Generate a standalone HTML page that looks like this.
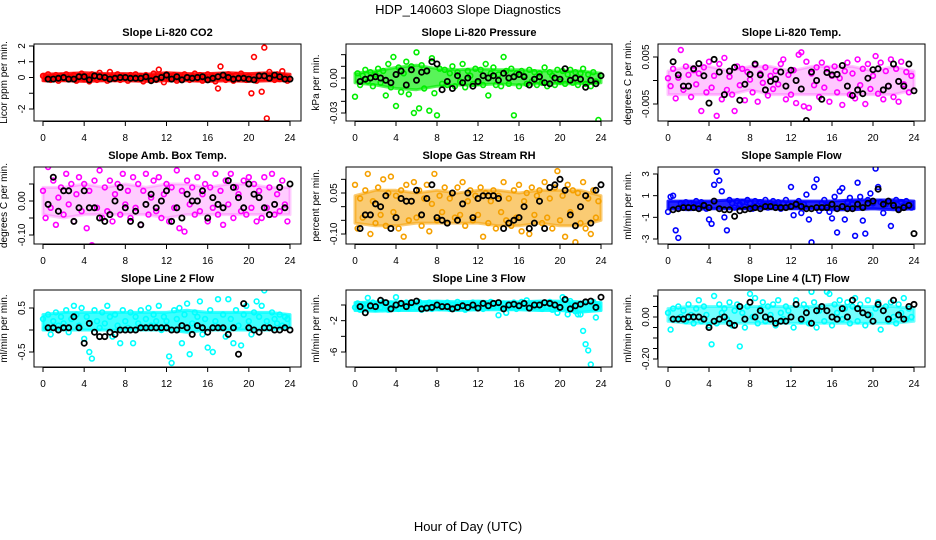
<!DOCTYPE html>
<html><head><meta charset="utf-8"><title>HDP_140603 Slope Diagnostics</title>
<style>
html,body{margin:0;padding:0;background:#fff;}
svg{display:block;font-family:"Liberation Sans","DejaVu Sans",sans-serif;}
</style></head>
<body>
<svg id="chart" width="936" height="540" viewBox="0 0 936 540" xmlns="http://www.w3.org/2000/svg">
<rect x="0" y="0" width="936" height="540" fill="#fff"/>
<text x="468" y="14" text-anchor="middle" font-size="13" fill="#000">HDP_140603  Slope Diagnostics</text>
<text x="468" y="531" text-anchor="middle" font-size="13" fill="#000">Hour of Day (UTC)</text>
</svg>
<script>
const xTicks = [0,4,8,12,16,20,24];
const titles = ["Slope Li-820 CO2","Slope Li-820 Pressure","Slope Li-820 Temp.","Slope Amb. Box Temp.","Slope Gas Stream RH","Slope Sample Flow","Slope Line 2 Flow","Slope Line 3 Flow","Slope Line 4 (LT) Flow"];
const yTitles = ["Licor ppm per min.","kPa per min.","degrees C per min.","degrees C per min.","percent per min.","ml/min per min.","ml/min per min.","ml/min per min.","ml/min per min."];
const colors = ["#ff0000","#00ee00","#ff00ff","#ff00ff","#f5a000","#0000ff","#00ffff","#00ffff","#00ffff"];
const yTickVals = [[2,1,0,-1,-2],[0.02,0.01,0,-0.01,-0.02,-0.03],[0.005,0,-0.005],[0.05,0,-0.05,-0.10],[0.10,0.05,0,-0.05,-0.10],[3,1,-1,-3],[0.5,0,-0.5],[0,-2,-4,-6],[0.10,0.05,0,-0.05,-0.10,-0.15,-0.20]];
const yTickLabels = [["2","1","0","","-2"],["","","0.00","","","-0.03"],["0.005","","-0.005"],["","0.00","","-0.10"],["","0.05","","","-0.10"],["3","1","-1","-3"],["0.5","","-0.5"],["","-2","","-6"],["","","0.00","","","","-0.20"]];

const bandLo0 = [-0.2,-0.2,-0.25,-0.2,-0.2,-0.25,-0.2,-0.2,-0.25,-0.2,-0.25,-0.2,-0.2];
const bandHi0 = [0.2,0.25,0.3,0.25,0.25,0.2,0.3,0.25,0.25,0.3,0.25,0.3,0.2];
const bandLo1 = [-0.004,-0.006,-0.009,-0.01,-0.007,-0.006,-0.006,-0.005,-0.006,-0.005,-0.005,-0.005,-0.004];
const bandHi1 = [0.004,0.006,0.009,0.011,0.008,0.007,0.008,0.007,0.007,0.006,0.006,0.006,0.004];
const bandLo2 = [-0.003,-0.003,-0.003,-0.003,-0.002,-0.003,-0.003,-0.003,-0.003,-0.003,-0.003,-0.003,-0.002];
const bandHi2 = [0.002,0.003,0.003,0.002,0.003,0.003,0.002,0.003,0.003,0.003,0.002,0.003,0.002];
const bandLo3 = [-0.04,-0.05,-0.04,-0.04,-0.04,-0.04,-0.05,-0.04,-0.04,-0.04,-0.04,-0.04,-0.04];
const bandHi3 = [0.04,0.04,0.05,0.04,0.05,0.04,0.05,0.05,0.04,0.05,0.05,0.04,0.04];
const bandLo4 = [-0.06,-0.07,-0.07,-0.06,-0.06,-0.06,-0.06,-0.07,-0.07,-0.06,-0.07,-0.07,-0.05];
const bandHi4 = [0.04,0.06,0.06,0.05,0.06,0.05,0.06,0.06,0.05,0.06,0.06,0.06,0.04];
const bandLo5 = [-0.2,-0.3,-0.2,-0.2,-0.2,-0.2,-0.2,-0.2,-0.3,-0.3,-0.2,-0.3,-0.2];
const bandHi5 = [0.5,0.5,0.5,0.6,0.6,0.5,0.5,0.5,0.5,0.6,0.6,0.6,0.5];
const bandLo6 = [0.0,0.0,0.0,0.0,0.0,0.0,0.0,-0.05,0.0,0.0,0.0,0.0,0.05];
const bandHi6 = [0.35,0.4,0.4,0.4,0.4,0.4,0.4,0.45,0.4,0.4,0.4,0.4,0.35];
const bandLo7 = [-0.7,-0.8,-0.7,-0.7,-0.6,-0.7,-0.6,-0.6,-0.6,-0.7,-0.7,-0.9,-0.7];
const bandHi7 = [0.3,0.4,0.4,0.4,0.5,0.4,0.5,0.4,0.4,0.5,0.5,0.4,0.3];
const bandLo8 = [-0.02,-0.03,-0.03,-0.03,-0.03,-0.03,-0.03,-0.03,-0.03,-0.03,-0.03,-0.03,-0.02];
const bandHi8 = [0.04,0.05,0.05,0.05,0.05,0.05,0.05,0.05,0.06,0.05,0.05,0.05,0.04];

const hourly0 = [0.1,-0.1,0.2,-0.15,0.05,0.15,-0.2,0.1,-0.05,0.2,-0.1,0.0,0.15,-0.2,0.1,0.25,-0.1,0.05,-0.25,0.2,0.1,-0.15,0.3,-0.05,0.1,-0.2,0.35,0.0,-0.1,0.2,-0.15,0.1,0.05,-0.2,0.15,-0.05,0.2,-0.1,0.1,-0.25,0.15,0.0,-0.1,0.25,-0.15,0.5,0.1,-0.3,0.2,-0.1,0.05,0.15,-0.2,0.1,-0.05,0.2,0.0,-0.15,0.1,0.25,-0.1,0.15,-0.2,0.05,0.2,-0.1,0.1,-0.25,-0.7,0.7,0.1,-0.15,0.2,0.05,-0.2,0.15,-0.1,0.25,0.0,-0.15,0.1,-1.0,1.3,-0.2,0.15,-0.9,1.9,-2.6,0.35,0.1,-0.15,0.2,-0.1,0.4,0.05,-0.2];
const avg0 = [-0.1,-0.1,-0.05,0.0,-0.1,-0.1,0.05,0.05,-0.15,0.1,0.05,0.0,-0.1,-0.05,0.0,0.0,-0.05,-0.05,-0.05,0.05,-0.2,-0.1,0.0,0.15,-0.1,0.05,-0.15,0.0,-0.05,0.0,0.05,-0.15,-0.05,0.05,0.15,0.0,-0.1,-0.05,-0.05,-0.1,-0.15,0.1,0.1,-0.05,0.15,0.05,-0.1,-0.1];
const hourly1 = [-0.016,0.004,-0.006,0.002,0.007,-0.003,0.005,-0.007,0.003,0.008,-0.004,0.006,-0.015,0.012,-0.008,0.018,-0.024,0.009,-0.012,0.004,0.014,-0.014,0.010,-0.030,0.022,-0.026,0.011,-0.009,0.006,-0.028,0.017,-0.013,-0.032,0.008,-0.005,0.007,-0.006,0.004,0.010,-0.007,0.005,-0.003,0.012,-0.008,0.006,0.002,-0.005,0.008,-0.004,0.007,-0.006,0.012,-0.015,0.004,0.009,-0.006,0.003,-0.007,0.018,0.006,-0.005,0.008,-0.032,0.004,-0.007,0.006,0.002,-0.005,0.007,-0.003,0.005,-0.006,0.004,-0.004,0.009,-0.007,0.005,0.002,-0.006,0.007,-0.003,0.006,-0.005,0.003,0.007,-0.004,0.005,-0.006,0.004,0.008,-0.005,0.003,-0.007,0.005,-0.003,-0.036];
const avg1 = [-0.003,-0.001,0.000,0.001,0.000,-0.002,-0.004,0.003,0.006,-0.006,0.007,-0.002,0.005,0.006,0.014,0.012,-0.010,-0.003,-0.009,0.002,-0.004,0.000,-0.007,-0.003,0.002,0.000,0.002,-0.002,0.004,0.000,0.001,0.003,0.001,-0.006,-0.001,0.001,-0.004,-0.005,0.000,-0.001,0.008,-0.002,0.000,-0.001,-0.008,-0.002,-0.005,0.002];
const hourly2 = [0.0005,-0.0012,0.0025,-0.0038,0.0006,0.0065,-0.0020,0.0030,0.0012,-0.0035,0.0022,-0.0008,0.0015,-0.0065,0.0028,-0.0025,0.0040,-0.0015,0.0010,-0.0075,0.0035,-0.0040,0.0048,-0.0020,0.0008,-0.0030,-0.0065,0.0030,-0.0010,0.0025,-0.0042,0.0018,0.0002,-0.0025,0.0033,-0.0045,0.0015,-0.0005,0.0028,-0.0032,0.0010,-0.0018,0.0020,-0.0008,0.0035,0.0045,-0.0040,0.0012,-0.0030,0.0022,-0.0048,0.0055,0.0060,-0.0055,0.0040,-0.0058,0.0015,-0.0010,0.0028,-0.0035,0.0038,-0.0015,0.0025,-0.0045,0.0010,0.0030,-0.0025,0.0005,-0.0052,0.0020,0.0038,-0.0030,0.0015,-0.0038,0.0045,-0.0010,0.0025,-0.0050,0.0035,-0.0018,0.0010,0.0052,-0.0028,0.0038,-0.0040,0.0020,-0.0012,0.0045,-0.0035,0.0025,-0.0045,0.0040,-0.0008,0.0018,-0.0025,0.0010];
const avg2 = [0.0040,0.0012,-0.0012,-0.0012,0.0025,0.0036,0.0010,-0.0048,0.0045,0.0018,-0.0030,0.0020,0.0028,-0.0042,-0.0008,0.0013,0.0035,0.0012,-0.0020,-0.0002,0.0003,0.0018,-0.0012,0.0022,0.0000,-0.0018,-0.0085,0.0018,0.0000,-0.0040,0.0017,0.0012,0.0013,0.0032,-0.0012,-0.0032,-0.0020,-0.0028,0.0005,0.0023,0.0025,-0.0020,-0.0012,0.0035,-0.0002,-0.0012,0.0035,-0.0022];
const hourly3 = [0.03,-0.05,0.10,-0.02,0.06,-0.07,0.01,0.04,-0.04,0.08,-0.01,0.05,-0.06,0.02,0.07,-0.03,0.05,-0.08,0.03,-0.13,0.06,-0.02,0.09,-0.05,0.04,-0.03,0.06,-0.06,0.02,0.05,-0.04,0.08,-0.01,0.03,-0.05,0.07,-0.02,0.05,-0.07,0.03,0.08,-0.04,0.01,0.06,-0.03,0.07,-0.05,0.02,0.05,-0.06,0.04,-0.02,0.09,-0.08,0.03,-0.09,0.06,-0.01,0.04,-0.04,0.07,-0.03,0.02,0.05,-0.06,0.04,-0.02,0.08,-0.04,0.03,-0.07,0.06,-0.01,0.08,-0.05,0.04,0.02,-0.03,0.06,-0.04,0.07,-0.02,0.05,-0.06,0.03,-0.05,0.07,-0.02,0.04,0.08,-0.04,0.02,-0.03,0.06,-0.01,-0.06];
const avg3 = [-0.01,0.07,-0.03,0.03,0.03,-0.06,-0.02,0.03,-0.02,-0.02,-0.05,-0.06,-0.04,0.00,0.04,-0.02,-0.06,-0.03,-0.07,-0.01,0.02,-0.02,0.00,0.03,-0.06,-0.02,-0.05,0.02,0.00,0.00,0.03,-0.05,0.01,-0.01,-0.02,0.06,0.04,0.01,-0.02,0.05,0.02,0.01,-0.02,-0.04,-0.01,0.04,-0.02,0.05];
const hourly4 = [0.08,-0.08,0.03,-0.04,0.06,0.12,-0.10,0.02,-0.06,0.07,-0.03,0.10,-0.07,0.05,0.11,-0.02,0.04,-0.08,0.06,-0.11,0.08,-0.05,0.02,0.09,-0.04,0.06,-0.07,0.03,0.08,-0.09,0.01,0.12,-0.05,0.04,-0.02,0.07,-0.06,0.03,0.05,-0.04,0.07,-0.03,0.09,-0.07,0.02,0.06,-0.05,0.04,-0.03,0.07,-0.11,0.05,-0.06,0.02,0.06,-0.08,0.04,-0.02,0.09,-0.05,0.03,-0.07,0.06,-0.04,0.08,-0.09,0.02,0.05,-0.10,0.07,-0.03,0.04,0.06,-0.06,0.09,-0.04,0.03,-0.08,0.07,0.13,-0.05,0.04,-0.11,0.08,-0.02,0.06,-0.13,0.05,-0.06,0.09,-0.08,0.03,-0.10,0.06,-0.04,0.02];
const avg4 = [-0.08,-0.03,-0.03,0.01,0.00,0.04,-0.08,-0.04,0.03,0.02,0.02,0.06,-0.03,0.03,0.08,-0.04,-0.05,-0.06,0.05,-0.05,0.01,0.05,-0.04,0.03,0.04,0.04,0.04,0.03,-0.08,-0.06,-0.05,-0.04,0.00,-0.08,-0.06,0.02,-0.08,0.07,0.08,0.10,0.06,-0.03,-0.07,0.00,0.04,-0.06,0.06,0.08];
const hourly5 = [-0.5,0.9,1.0,-2.2,-2.9,0.3,0.1,0.4,-0.1,0.3,0.2,0.5,0.1,0.4,0.2,-0.2,-1.2,-1.6,2.0,3.2,2.4,1.4,-1.0,-2.2,0.6,0.3,-0.1,0.5,0.2,0.4,0.0,0.6,0.3,-0.2,0.5,0.1,0.4,0.2,0.6,-0.1,0.3,0.5,0.1,0.4,-0.2,0.3,0.6,0.2,1.8,-0.8,0.3,0.5,-0.6,0.2,1.1,-1.2,-3.3,1.8,2.5,-0.4,0.3,0.6,0.1,-0.5,-1.1,0.9,-2.4,1.4,1.7,-1.2,0.4,0.8,0.2,-2.7,2.2,0.9,-1.3,-2.5,0.6,1.2,0.3,3.5,1.8,0.4,-0.6,0.2,0.5,-1.8,0.3,0.6,-0.2,0.4,0.1,0.5,0.2,-0.1];
const avg5 = [-0.3,-0.2,-0.1,-0.1,-0.1,-0.2,0.1,-0.1,0.5,-0.2,-0.3,-0.3,-0.9,-0.4,-0.3,-0.2,-0.1,-0.2,0.0,0.0,-0.1,-0.1,-0.1,0.0,0.2,0.0,-0.2,-0.2,-0.1,-0.1,-0.1,0.2,-0.2,0.0,-0.2,-0.2,0.2,-0.1,0.3,0.5,1.6,0.2,0.5,0.1,-0.3,-0.1,0.1,-2.5];
const hourly6 = [0.25,0.05,0.35,-0.1,0.2,0.4,0.1,0.3,0.15,0.45,-0.05,0.25,0.55,0.35,0.1,0.5,-0.2,0.3,-0.5,-0.65,0.45,0.2,0.05,0.4,0.15,0.55,0.3,-0.15,0.35,0.1,-0.3,0.45,0.2,0.05,0.4,-0.3,0.3,0.15,0.45,0.05,0.25,0.5,0.1,0.35,0.2,0.55,0.0,0.3,0.2,-0.6,-0.75,0.45,0.25,0.5,-0.3,0.35,0.6,-0.55,0.15,0.4,0.3,0.65,-0.1,0.25,-0.4,0.45,-0.5,0.2,0.7,0.05,0.35,-0.15,0.7,0.25,-0.3,0.45,0.1,-0.35,0.35,0.55,0.2,-0.1,0.4,0.65,0.3,0.55,0.9,0.2,0.05,0.4,0.25,0.15,0.35,0.1,0.3,0.25];
const avg6 = [0.05,0.05,0.0,0.05,0.05,0.3,0.05,-0.3,0.15,-0.05,-0.15,-0.15,-0.05,-0.1,0.0,0.0,0.0,0.0,0.05,0.05,0.05,0.05,0.05,0.05,0.0,0.0,0.1,0.05,-0.1,0.1,0.05,-0.05,0.05,0.05,0.05,-0.1,0.05,-0.55,0.6,0.05,0.0,-0.05,0.05,0.05,0.0,0.0,0.05,0.0];
const hourly7 = [-0.3,0.2,-0.6,0.0,-0.4,0.9,-0.2,0.3,-0.5,0.1,-0.3,0.4,-0.1,-0.6,0.2,-0.3,1.0,-0.5,0.1,-0.2,0.3,-0.4,0.0,0.2,-0.3,0.4,-0.6,0.1,-0.2,0.3,-0.5,0.0,0.2,-0.4,0.1,-0.2,0.3,-0.5,0.0,-0.3,0.4,-0.1,0.2,-0.6,0.1,-0.2,0.3,-0.4,0.0,0.2,-0.5,0.1,-0.3,0.4,-0.2,0.1,-1.3,-0.4,0.2,-1.0,0.1,-0.3,0.3,-0.5,0.0,0.4,-0.2,0.6,-0.4,0.1,-0.3,0.2,0.0,-0.5,0.3,-0.2,0.4,-0.6,0.1,-1.0,-0.3,1.0,0.6,-1.2,0.5,0.0,-0.8,-1.2,-1.2,-3.3,-5.0,-5.8,-7.6,0.4,-1.6,-0.2];
const avg7 = [-0.2,-1.0,-0.1,-0.2,0.6,0.3,-0.5,0.0,0.2,-0.2,0.3,0.5,-0.5,-0.4,-0.3,0.0,-0.2,-0.2,-0.5,-0.3,-0.1,-0.3,0.0,-0.4,0.2,-0.1,0.2,0.3,-0.5,0.0,0.1,-0.1,0.2,-0.4,0.0,0.0,0.3,0.2,0.0,-0.3,0.7,-0.5,-0.1,0.1,0.4,0.5,-0.3,1.0];
const hourly8 = [0.02,-0.06,0.04,-0.01,0.05,0.00,0.03,-0.02,0.06,0.01,-0.03,0.04,0.08,-0.02,0.05,0.01,-0.04,-0.13,0.10,-0.03,0.06,0.02,0.04,-0.01,0.07,-0.04,0.03,0.06,-0.14,0.02,-0.05,0.05,0.11,0.00,0.09,-0.03,0.04,0.07,-0.02,0.05,0.01,0.06,-0.04,0.08,0.02,-0.01,0.05,0.03,-0.25,-0.05,0.08,0.14,-0.02,0.06,0.04,-0.03,0.12,0.07,-0.05,0.03,0.05,-0.02,0.12,0.11,-0.04,0.06,0.02,0.08,-0.01,0.04,0.07,-0.03,0.05,0.09,-0.02,0.06,0.02,-0.04,0.08,0.01,-0.26,0.04,0.07,-0.06,0.03,0.05,-0.02,0.07,0.00,-0.03,0.06,0.02,0.09,-0.01,0.04,0.00];
const avg8 = [-0.01,-0.01,-0.01,0.00,0.00,0.00,-0.01,-0.05,-0.02,-0.01,0.00,-0.03,-0.04,0.05,-0.01,0.07,0.00,0.03,0.00,-0.01,-0.03,-0.02,-0.02,0.00,0.06,-0.01,0.02,-0.03,0.03,0.05,0.03,0.00,-0.01,0.04,0.00,0.08,0.04,0.02,0.01,-0.02,0.06,0.03,-0.01,0.08,0.01,-0.01,0.05,0.06];

const hourlySeries = [hourly0,hourly1,hourly2,hourly3,hourly4,hourly5,hourly6,hourly7,hourly8];
const avgSeries = [avg0,avg1,avg2,avg3,avg4,avg5,avg6,avg7,avg8];
const bandLoSeries = [bandLo0,bandLo1,bandLo2,bandLo3,bandLo4,bandLo5,bandLo6,bandLo7,bandLo8];
const bandHiSeries = [bandHi0,bandHi1,bandHi2,bandHi3,bandHi4,bandHi5,bandHi6,bandHi7,bandHi8];

const bandOpacity = [0.85,0.65,0.22,0.2,0.55,0.85,0.75,0.85,0.55];
const boxX = [[34,301],[346,612],[658,925]];
const xPix = [[43,290],[355,601],[668,914]];
const boxY = [[44,121],[167,244],[290,367]];
const yCal = [[2,46,-2,109],[0,78,-0.03,113],[0.005,57,-0.005,104],[0,201,-0.10,235],[0.05,193,-0.10,234],[3,174,-3,239],[0.5,308,-0.5,352],[0,305,-6,352],[0,317,-0.20,359]];

const NS = "http://www.w3.org/2000/svg";
const svg = document.getElementById("chart");
function mk(tag, attrs, parent){const e=document.createElementNS(NS,tag);for(const k in attrs)e.setAttribute(k,attrs[k]);(parent||svg).appendChild(e);return e;}

for (let p = 0; p < 9; p++) {
  const col = p % 3, row = Math.floor(p / 3);
  const [bx0,bx1] = boxX[col], [by0,by1] = boxY[row];
  const [px0,px24] = xPix[col];
  const xs = h => px0 + (px24 - px0) * h / 24;
  const [v1,p1,v2,p2] = yCal[p];
  const ys = v => p1 + (v - v1) * (p2 - p1) / (v2 - v1);
  const g = mk("g", {});
  
  

  const title = mk("text", {x:(bx0+bx1)/2, y:by0-8, "text-anchor":"middle", "font-size":"11", "font-weight":"bold"}, g);
  title.textContent = titles[p];
  
  

  const cx = bx0 - 27, cy = (by0 + by1) / 2;
  const yt = mk("text", {x:cx, y:cy, "text-anchor":"middle", "font-size":"10", transform:`rotate(-90 ${cx} ${cy})`}, g);
  yt.textContent = yTitles[p];
  
  

  const clipId = "clip" + p;
  const cp = mk("clipPath", {id: clipId}, g);
  mk("rect", {x:bx0, y:by0, width:bx1-bx0, height:by1-by0}, cp);
  const pts = mk("g", {"clip-path":`url(#${clipId})`, fill:"none", "stroke-width":"1.6"}, g);
  
  

  const lo = bandLoSeries[p], hi = bandHiSeries[p];
  const up = hi.map((v,i) => `${xs(i*24/(hi.length-1)).toFixed(1)},${ys(v).toFixed(1)}`);
  const dn = lo.map((v,i) => `${xs(i*24/(lo.length-1)).toFixed(1)},${ys(v).toFixed(1)}`).reverse();
  const band = mk("polygon", {points: up.concat(dn).join(" "), fill: colors[p], "fill-opacity": bandOpacity[p], stroke: colors[p], "stroke-width":"3", "stroke-opacity": bandOpacity[p], "stroke-linejoin":"round"}, pts);
  
  

  const hs = hourlySeries[p];
  hs.forEach((v, i) => {
    const c = mk("circle", {cx: xs(i * 24 / hs.length).toFixed(1), cy: ys(v).toFixed(1), r: 2.4, stroke: colors[p]}, pts);
    
    
  });
  const as = avgSeries[p];
  as.forEach((v, i) => {
    const c = mk("circle", {cx: xs((i + 1) * 24 / as.length).toFixed(1), cy: ys(v).toFixed(1), r: 2.6, stroke: "#000", "stroke-width":"1.8"}, pts);
    
    
  });

  const box = mk("rect", {x:bx0, y:by0, width:bx1-bx0, height:by1-by0, fill:"none", stroke:"#000", "stroke-width":"1"}, g);
  
  

  const xa = mk("g", {stroke:"#000", "stroke-width":"1"}, g);
  
  
  mk("line", {x1:xs(0), y1:by1+0.5, x2:xs(24), y2:by1+0.5}, xa);
  xTicks.forEach(t => {
    mk("line", {x1:xs(t), y1:by1, x2:xs(t), y2:by1+5}, xa);
    const tl = mk("text", {x:xs(t), y:by1+20, "text-anchor":"middle", "font-size":"10", stroke:"none", fill:"#000"}, g);
    tl.textContent = t;
    
    
  });

  const ya = mk("g", {stroke:"#000", "stroke-width":"1"}, g);
  
  
  const tv = yTickVals[p];
  mk("line", {x1:bx0-0.5, y1:ys(tv[0]), x2:bx0-0.5, y2:ys(tv[tv.length-1])}, ya);
  tv.forEach((v, k) => {
    const y = ys(v);
    mk("line", {x1:bx0-5, y1:y, x2:bx0, y2:y}, ya);
    const lab = yTickLabels[p][k];
    if (lab) {
      const lx = bx0 - 9;
      const tl = mk("text", {x:lx, y:y, "text-anchor":"middle", "font-size":"10", transform:`rotate(-90 ${lx} ${y})`, fill:"#000"}, g);
      tl.textContent = lab;
      
      
    }
  });
}
</script>
</body></html>
